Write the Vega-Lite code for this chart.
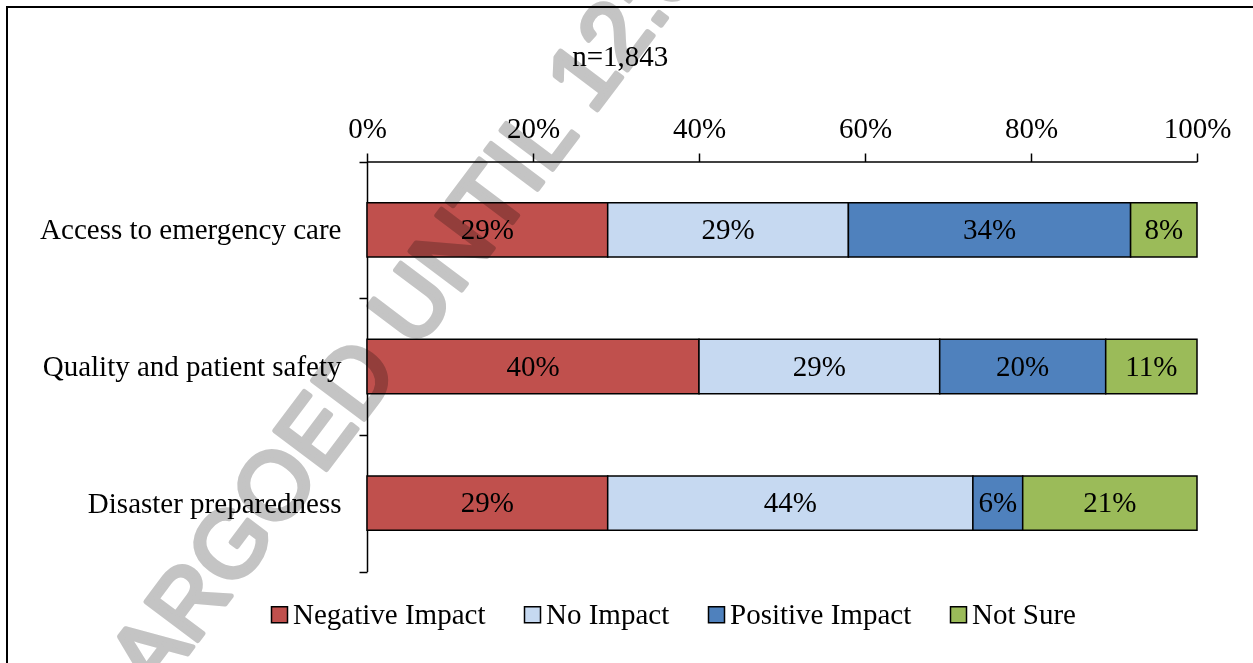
{
  "$schema": "https://vega.github.io/schema/vega-lite/v6.json",
  "width": 1256,
  "height": 666,
  "autosize": {"type": "none"},
  "padding": {"left": 7, "top": 7, "right": -10, "bottom": -10},
  "background": "white",
  "config": {
    "font": "Liberation Serif",
    "view": {"stroke": "black", "strokeWidth": 2}
  },
  "data": {
    "values": [
      {"item": "Access to emergency care", "response": "Negative Impact", "pct": 0.29},
      {"item": "Access to emergency care", "response": "No Impact", "pct": 0.29},
      {"item": "Access to emergency care", "response": "Positive Impact", "pct": 0.34},
      {"item": "Access to emergency care", "response": "Not Sure", "pct": 0.08},
      {"item": "Quality and patient safety", "response": "Negative Impact", "pct": 0.40},
      {"item": "Quality and patient safety", "response": "No Impact", "pct": 0.29},
      {"item": "Quality and patient safety", "response": "Positive Impact", "pct": 0.20},
      {"item": "Quality and patient safety", "response": "Not Sure", "pct": 0.11},
      {"item": "Disaster preparedness", "response": "Negative Impact", "pct": 0.29},
      {"item": "Disaster preparedness", "response": "No Impact", "pct": 0.44},
      {"item": "Disaster preparedness", "response": "Positive Impact", "pct": 0.06},
      {"item": "Disaster preparedness", "response": "Not Sure", "pct": 0.21}
    ]
  },
  "layer": [
    {
      "transform": [
        {"calculate": "indexof(['Negative Impact','No Impact','Positive Impact','Not Sure'], datum.response)", "as": "rank"},
        {"stack": "pct", "groupby": ["item"], "sort": [{"field": "rank", "order": "ascending"}], "as": ["x0", "x1"]}
      ],
      "mark": {"type": "bar", "stroke": "black", "strokeWidth": 1.5, "height": {"band": 0.397}},
      "encoding": {
        "y": {
          "field": "item", "type": "nominal", "sort": null,
          "scale": {"domain": ["Access to emergency care", "Quality and patient safety", "Disaster preparedness"], "range": [154.5, 564.5], "paddingInner": 0, "paddingOuter": 0},
          "axis": {
            "orient": "left", "offset": -360, "title": null, "tickBand": "extent",
            "tickSize": 8, "labelPadding": 18, "labelFontSize": 29, "labelColor": "black",
            "labelFont": "Liberation Serif", "labelLimit": 0,
            "domainColor": "black", "domainWidth": 1.5, "tickColor": "black", "tickWidth": 1.5, "grid": false
          }
        },
        "x": {
          "field": "x0", "type": "quantitative",
          "scale": {"domain": [0, 1], "range": [360, 1190], "nice": false, "zero": false},
          "axis": {
            "orient": "top", "offset": -154.5, "values": [0, 0.2, 0.4, 0.6, 0.8, 1], "format": ".0%",
            "labelFontSize": 29, "labelColor": "black", "labelFont": "Liberation Serif", "labelFlush": false,
            "labelOverlap": false, "labelPadding": 10, "tickSize": 8.5, "tickColor": "black", "tickWidth": 1.5,
            "domainColor": "black", "domainWidth": 1.5, "grid": false,
            "title": "n=1,843", "titleFont": "Liberation Serif", "titleFontSize": 29, "titleFontWeight": "normal",
            "titleColor": "black", "titleX": 612.7, "titleY": -96.5, "titleBaseline": "alphabetic", "titleAlign": "center"
          }
        },
        "x2": {"field": "x1"},
        "color": {
          "field": "response", "type": "nominal",
          "scale": {"domain": ["Negative Impact", "No Impact", "Positive Impact", "Not Sure"], "range": ["#C0504D", "#C6D9F1", "#4F81BD", "#9BBB59"]},
          "legend": {
            "title": null, "orient": "none", "legendX": 258, "legendY": 593, "direction": "horizontal", "columns": 4,
            "symbolType": "square", "symbolSize": 256, "symbolStrokeColor": "black", "symbolStrokeWidth": 1.5,
            "labelFontSize": 29, "labelColor": "black", "labelFont": "Liberation Serif", "labelOffset": -1,
            "columnPadding": 32, "labelLimit": 0, "padding": 0
          }
        }
      }
    },
    {
      "transform": [
        {"calculate": "indexof(['Negative Impact','No Impact','Positive Impact','Not Sure'], datum.response)", "as": "rank"},
        {"stack": "pct", "groupby": ["item"], "sort": [{"field": "rank", "order": "ascending"}], "as": ["x0", "x1"]},
        {"calculate": "(datum.x0 + datum.x1) / 2", "as": "xmid"}
      ],
      "mark": {"type": "text", "font": "Liberation Serif", "fontSize": 29, "color": "black", "baseline": "middle"},
      "encoding": {
        "y": {"field": "item", "type": "nominal", "sort": null},
        "x": {"field": "xmid", "type": "quantitative"},
        "text": {"field": "pct", "type": "quantitative", "format": ".0%"}
      }
    },
    {
      "data": {"values": [{"note": "EMBARGOED UNTIL 12:01 A.M."}]},
      "mark": {"type": "text", "font": "Liberation Sans", "fontSize": 94, "fontWeight": "normal", "angle": -53, "align": "left", "baseline": "middle", "dx": -425, "fill": "#C4C4C4", "stroke": "#C4C4C4", "strokeWidth": 5, "strokeJoin": "round", "blend": "multiply"},
      "encoding": {
        "text": {"field": "note", "type": "nominal"},
        "x": {"datum": -0.1217, "type": "quantitative"},
        "y": {"datum": "Disaster preparedness", "type": "nominal"}
      }
    }
  ]
}
